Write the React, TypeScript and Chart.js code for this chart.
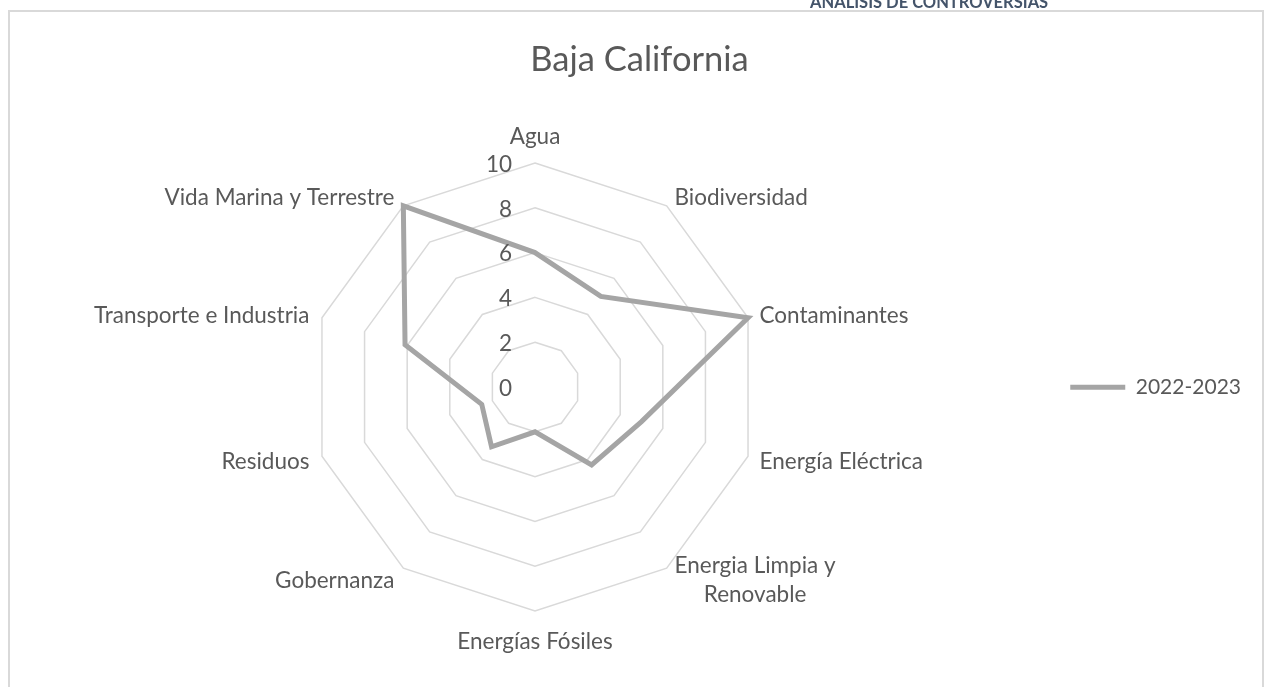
import React, { useEffect, useRef } from 'react';
import { Chart, registerables } from 'chart.js';

Chart.register(...registerables);

// ---- data ----
const categories: (string | string[])[] = [
  'Agua',
  'Biodiversidad',
  'Contaminantes',
  'Energía Eléctrica',
  ['Energia Limpia y', 'Renovable'],
  'Energías Fósiles',
  'Gobernanza',
  'Residuos',
  'Transporte e Industria',
  'Vida Marina y Terrestre',
];
const seriesLabel = '2022-2023';
const seriesValues: number[] = [6, 5, 10, 5, 4.3, 2, 3.3, 2.5, 6.1, 10];
const scaleMin = 0;
const scaleMax = 10;
const scaleStep = 2;
const chartTitle = 'Baja California';
const pageHeader = 'ANÁLISIS DE CONTROVERSIAS';

// ---- style ----
const FONT = 'Lato';
const TEXT = '#595959';
const LABEL_SIZE = 22.5;
const LEGEND_SIZE = 21;
const LINE_COLOR = '#a5a5a5';
const GRID_COLOR = '#d9d9d9';
const BASE_SHIFT = 2; // Lato's 'middle' baseline sits a little high

const excelLabels = {
  id: 'excelLabels',
  afterDraw(chart: any) {
    const scale = chart.scales.r;
    const ctx = chart.ctx as CanvasRenderingContext2D;
    ctx.save();
    ctx.fillStyle = TEXT;
    ctx.font = `${LABEL_SIZE}px ${FONT}`;
    ctx.textBaseline = 'middle';
    // tick labels, left of the vertical axis
    ctx.textAlign = 'right';
    scale.ticks.forEach((t: any) => {
      const d = scale.getDistanceFromCenterForValue(t.value);
      ctx.fillText(String(t.value), scale.xCenter - 23, scale.yCenter - d + 1.5);
    });
    // category labels
    const R = scale.drawingArea;
    const lh = LABEL_SIZE * 1.3;
    const labels = chart.data.labels as (string | string[])[];
    ctx.textAlign = 'center';
    labels.forEach((lbl, i) => {
      const lines = Array.isArray(lbl) ? lbl : [lbl];
      const bw = Math.max(...lines.map((l) => ctx.measureText(l).width));
      const bh = lines.length * lh;
      const p0 = scale.getPointPosition(i, R);
      const ux = (p0.x - scale.xCenter) / R;
      const uy = (p0.y - scale.yCenter) / R;
      let cx: number;
      let cy: number;
      if (Math.abs(ux) < 0.05) {
        const p = scale.getPointPosition(i, R + 13 + bh / 2);
        cx = p.x;
        cy = p.y + (uy > 0 ? 1.5 : -1);
      } else {
        const p = scale.getPointPosition(i, R + 10);
        cx = ux > 0 ? p.x + 2 + bw / 2 : p.x - 3 - bw / 2;
        cy = p.y + 2.5 * uy;
      }
      cy += BASE_SHIFT;
      lines.forEach((l, k) => ctx.fillText(l, cx, cy - bh / 2 + lh * (k + 0.5)));
    });
    ctx.restore();
  },
};

export default function App() {
  const canvasRef = useRef<HTMLCanvasElement | null>(null);

  useEffect(() => {
    if (!canvasRef.current) return;
    const chart = new Chart(canvasRef.current, {
      type: 'radar',
      data: {
        labels: categories as any,
        datasets: [
          {
            label: seriesLabel,
            data: seriesValues,
            borderColor: LINE_COLOR,
            backgroundColor: LINE_COLOR,
            borderWidth: 5,
            pointRadius: 0,
            pointHoverRadius: 0,
            fill: false,
            borderJoinStyle: 'miter',
            borderCapStyle: 'round',
            tension: 0,
          } as any,
        ],
      },
      options: {
        responsive: false,
        animation: false,
        layout: { padding: { left: 18, right: 11, top: 0, bottom: 80 } },
        plugins: {
          title: {
            display: true,
            text: chartTitle,
            color: TEXT,
            font: { family: FONT, size: 34.5, weight: 'normal' as any },
            padding: { top: 27, bottom: 82 },
          },
          legend: {
            position: 'right',
            fullSize: false,
            labels: {
              usePointStyle: true,
              pointStyle: 'line',
              pointStyleWidth: 55,
              color: TEXT,
              font: { family: FONT, size: LEGEND_SIZE },
              padding: 28,
            },
          },
          tooltip: { enabled: false },
        },
        scales: {
          r: {
            min: scaleMin,
            max: scaleMax,
            beginAtZero: true,
            ticks: { display: false, stepSize: scaleStep },
            grid: { color: GRID_COLOR, lineWidth: 1.5 },
            angleLines: { display: false },
            pointLabels: { display: false },
          },
        },
      } as any,
      plugins: [excelLabels],
    });
    return () => chart.destroy();
  }, []);

  return (
    <div>
      <div
        style={{
          position: 'fixed',
          left: 810,
          top: -6,
          fontFamily: FONT,
          fontWeight: 700,
          fontSize: 16.5,
          lineHeight: 1,
          color: '#44546a',
          whiteSpace: 'nowrap',
        }}
      >
        {pageHeader}
      </div>
      <div
        style={{
          position: 'fixed',
          left: 8,
          top: 10,
          width: 1256,
          height: 700,
          border: '2px solid #d9d9d9',
          boxSizing: 'border-box',
          background: '#fff',
        }}
      >
        <canvas ref={canvasRef} width={1252} height={680} style={{ display: 'block' }} />
      </div>
    </div>
  );
}
